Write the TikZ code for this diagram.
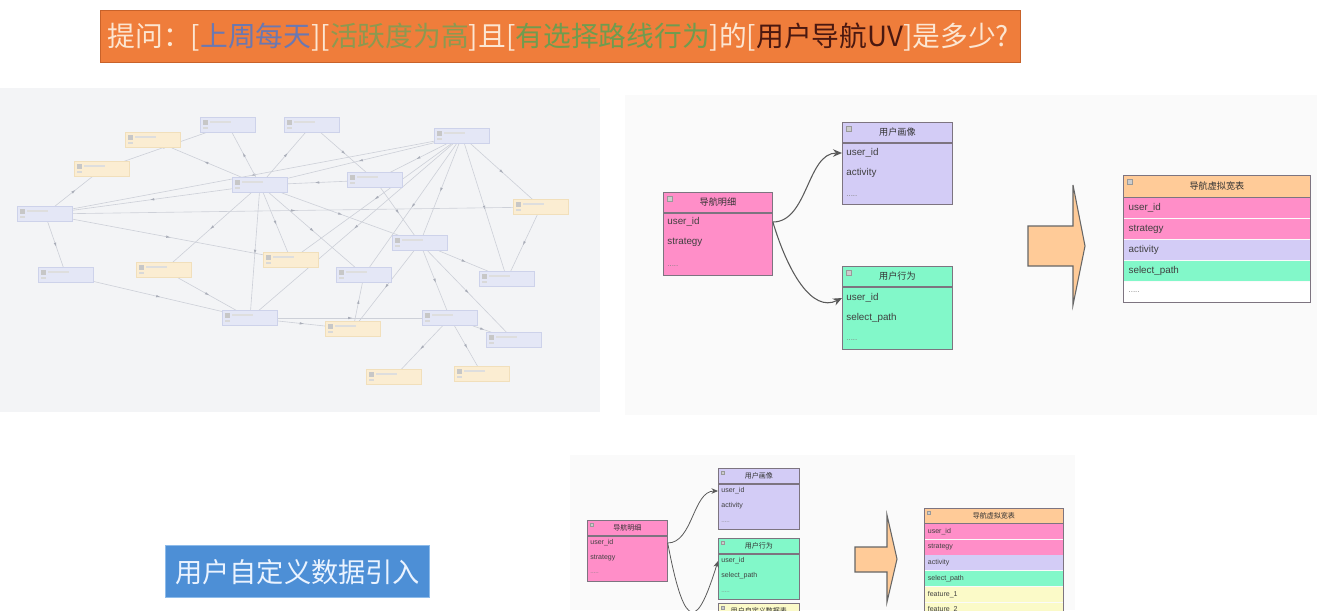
\documentclass[tikz,border=0pt]{standalone}
\usepackage{fontspec}
\setmainfont{Liberation Sans}
\newfontfamily\cjk{Noto Sans CJK SC}
\usepackage{tikz}
\usetikzlibrary{
  arrows.meta,
  positioning,
  fit,
  backgrounds,
  decorations.markings
}
\definecolor{qOrange}{HTML}{EF7D3B}
\definecolor{qOrangeDk}{HTML}{C8622A}
\definecolor{qLight}{HTML}{FCE6D2}
\definecolor{qBlue}{HTML}{6A78B2}
\definecolor{qOlive}{HTML}{8C9950}
\definecolor{qGreen}{HTML}{6F9C4F}
\definecolor{qBrown}{HTML}{4A1810}
\definecolor{erPink}{HTML}{FF8EC8}
\definecolor{erPurple}{HTML}{D3CCF6}
\definecolor{erGreen}{HTML}{82F8C9}
\definecolor{erPeach}{HTML}{FFCB98}
\definecolor{erYellow}{HTML}{FBFAC8}
\definecolor{erLine}{HTML}{7D7480}
\definecolor{gPanel}{HTML}{F3F4F6}
\definecolor{gBlue}{HTML}{E4E7F6}
\definecolor{gBlueDk}{HTML}{CDD2EA}
\definecolor{gYellow}{HTML}{FBEDD2}
\definecolor{gYellowDk}{HTML}{F1DFBB}
\definecolor{gEdge}{HTML}{CDD0D8}
\definecolor{gMark}{HTML}{A9ADB8}
\definecolor{btnBlue}{HTML}{4D8FD6}
\definecolor{btnEdge}{HTML}{8DBBEA}
\definecolor{btnText}{HTML}{EAF3FF}
\tikzset{
  qbar/.style={
    draw=qOrangeDk, fill=qOrange, line width=0.8pt, anchor=north west,
    minimum width=18.4cm, minimum height=1.04cm, inner xsep=0.14cm,
    text width=18.12cm, align=left, font=\cjk\fontsize{15.8}{18}\selectfont, text=qLight
  },
  btn/.style={
    fill=btnBlue, draw=btnEdge, line width=0.8pt, anchor=north west,
    minimum width=5.28cm, minimum height=1.04cm,
    font=\cjk\fontsize{15.5}{18}\selectfont, text=btnText
  },
  % faded overview graph
  gbox/.style={
    minimum width=1.1cm, minimum height=0.3cm, inner sep=0pt, line width=0.4pt,
    path picture={
      \fill[black!22] ([shift={(1.5pt,-1.5pt)}]path picture bounding box.north west) rectangle ++(2.5pt,-2.5pt);
      \fill[black!13] ([shift={(5.5pt,-2pt)}]path picture bounding box.north west) rectangle ++(12pt,-1.4pt);
      \fill[black!15] ([shift={(1.5pt,-5.6pt)}]path picture bounding box.north west) rectangle ++(3pt,-1.2pt);
    }
  },
  gblue/.style={gbox, fill=gBlue, draw=gBlueDk},
  gyellow/.style={gbox, fill=gYellow, draw=gYellowDk},
  gline/.style={
    draw=gEdge, line width=0.35pt, postaction={decorate},
    decoration={markings, mark=at position 0.5 with {\fill[gMark] (1.2pt,0) -- (-1pt,0.7pt) -- (-1pt,-0.7pt) -- cycle;}}
  },
  % er tables
  tabhead/.style={
    draw=erLine, line width=0.5pt, anchor=north west, inner sep=0pt,
    font=\cjk\fontsize{5.2}{6}\selectfont, text=black!80,
    path picture={\draw[black!40, fill=white!80!black, line width=0.2pt]
      ([shift={(2pt,-2pt)}]path picture bounding box.north west) rectangle ++(2.8pt,-2.8pt);}
  },
  stabhead/.style={
    draw=erLine, line width=0.4pt, anchor=north west, inner sep=0pt,
    font=\cjk\fontsize{4}{5}\selectfont, text=black!80,
    path picture={\draw[black!40, fill=white!80!black, line width=0.15pt]
      ([shift={(1.4pt,-1.4pt)}]path picture bounding box.north west) rectangle ++(2pt,-2pt);}
  },
  tabbody/.style={draw=erLine, line width=0.5pt, anchor=north west, inner sep=0pt},
  stabbody/.style={draw=erLine, line width=0.4pt, anchor=north west, inner sep=0pt},
  field/.style={anchor=west, inner sep=0pt, font=\fontsize{5.6}{6.5}\selectfont, text=black!75},
  sfield/.style={anchor=west, inner sep=0pt, font=\fontsize{4}{5}\selectfont, text=black!75},
  dots/.style={anchor=west, inner sep=0pt, font=\fontsize{4.5}{5}\selectfont, text=black!50},
  sdots/.style={anchor=west, inner sep=0pt, font=\fontsize{3.5}{4}\selectfont, text=black!50},
  wrow/.style={anchor=north west, inner xsep=3pt, inner ysep=0pt, minimum height=0.404cm,
    text width=3.528cm, align=left, font=\fontsize{5.6}{6.5}\selectfont, text=black!75},
  swrow/.style={anchor=north west, inner xsep=2pt, inner ysep=0pt, minimum height=0.3cm,
    text width=2.639cm, align=left, font=\fontsize{4}{5}\selectfont, text=black!75},
  tabframe/.style={draw=erLine, line width=0.5pt, inner sep=0pt},
  erlink/.style={-{Stealth[length=1.8mm, width=1.5mm]}, line width=0.6pt, draw=black!65},
  serlink/.style={-{Stealth[length=1.3mm, width=1.1mm]}, line width=0.45pt, draw=black!65},
  bigarrow/.style={fill=erPeach, draw=black!60, line width=0.6pt, line join=miter}
}

\begin{document}
\begin{tikzpicture}[x=0.02cm, y=-0.02cm]
  \useasboundingbox (0,0) rectangle (1317,610);
  \clip (0,0) rectangle (1317,610);

  % question bar
  \node[qbar] (qBar) at (100,10) {提问：[{\color{qBlue}上周每天}][{\color{qOlive}活跃度为高}]且[{\color{qGreen}有选择路线行为}]的[{\color{qBrown}用户导航UV}]是多少?};

  % soft backdrops
  \fill[black!2] (625,95) rectangle (1317,415);
  \fill[black!2] (570,455) rectangle (1075,610);

  % faded overview graph
  \foreach \nm/\px/\py/\kind in {
      tb1/228/125/gblue, tb2/312/125/gblue, tb3/462/136/gblue,
      tb4/153/140/gyellow, tb5/102/169/gyellow, tb6/260/185/gblue,
      tb7/375/180/gblue, tb8/45/214/gblue, tb9/541/207/gyellow,
      tb10/420/243/gblue, tb11/66/275/gblue, tb12/164/270/gyellow,
      tb13/291/260/gyellow, tb14/364/275/gblue, tb15/507/279/gblue,
      tb16/250/318/gblue, tb17/353/329/gyellow, tb18/450/318/gblue,
      tb19/514/340/gblue, tb20/394/377/gyellow, tb21/482/374/gyellow}
    \node[\kind] (\nm) at (\px,\py) {};
  \begin{pgfonlayer}{background}
    \fill[gPanel] (0,88) rectangle (600,412);
    \foreach \a/\b in {3/6, 3/7, 3/8, 3/10, 3/13, 3/14, 3/15, 3/9, 3/16,
        6/1, 6/2, 6/4, 6/8, 6/12, 6/13, 6/14, 6/10, 6/16,
        8/5, 8/11, 8/9, 8/13, 5/1, 7/10, 7/6, 2/7,
        10/18, 10/19, 10/15, 10/17, 11/16, 12/16, 16/18, 16/17,
        18/20, 18/21, 18/19, 17/14, 9/15}
      \draw[gline] (tb\a) -- (tb\b);
  \end{pgfonlayer}

  % er diagram, top
  \node[tabhead, fill=erPink, minimum width=2.18cm, minimum height=0.4cm] (navH) at (663,192) {导航明细};
  \node[tabbody, fill=erPink, minimum width=2.18cm, minimum height=1.24cm] (navB) at (navH.south west) {};
  \node[field] (navF1) at (667,222) {user\_id};
  \node[field] (navF2) at (667,242) {strategy};
  \node[dots] (navF3) at (667,266) {.....};

  \node[tabhead, fill=erPurple, minimum width=2.2cm, minimum height=0.4cm] (porH) at (842,122) {用户画像};
  \node[tabbody, fill=erPurple, minimum width=2.2cm, minimum height=1.22cm] (porB) at (porH.south west) {};
  \node[field] (porF1) at (846,153) {user\_id};
  \node[field] (porF2) at (846,173) {activity};
  \node[dots] (porF3) at (846,196) {.....};

  \node[tabhead, fill=erGreen, minimum width=2.2cm, minimum height=0.4cm] (behH) at (842,266) {用户行为};
  \node[tabbody, fill=erGreen, minimum width=2.2cm, minimum height=1.24cm] (behB) at (behH.south west) {};
  \node[field] (behF1) at (846,298) {user\_id};
  \node[field] (behF2) at (846,318) {select\_path};
  \node[dots] (behF3) at (846,340) {.....};

  \draw[erlink] (navF1 -| navB.east) .. controls +(35,0) and +(-35,0) .. (porF1 -| porB.west);
  \draw[erlink] (navF1 -| navB.east) .. controls +(15,50) and +(-30,15) .. (behF1 -| behB.west);

  \draw[bigarrow] (1028,226) -- (1073,226) -- (1073,185) -- (1085,246) -- (1073,305)
    -- (1073,266) -- (1028,266) -- cycle;

  \node[tabhead, fill=erPeach, minimum width=3.74cm, minimum height=0.44cm] (wdH) at (1123,175) {导航虚拟宽表};
  \node[wrow, fill=erPink] (wdR1) at (wdH.south west) {user\_id};
  \node[wrow, fill=erPink] (wdR2) at (wdR1.south west) {strategy};
  \node[wrow, fill=erPurple] (wdR3) at (wdR2.south west) {activity};
  \node[wrow, fill=erGreen] (wdR4) at (wdR3.south west) {select\_path};
  \node[wrow, fill=white, font=\fontsize{4.5}{5}\selectfont, text=black!50] (wdR5) at (wdR4.south west) {.....};
  \node[tabframe, fit=(wdH)(wdR5)] (wdF) {};

  % custom data entry
  \node[btn] (udBtn) at (165,545) {用户自定义数据引入};

  % er diagram, bottom
  \node[stabhead, fill=erPink, minimum width=1.6cm, minimum height=0.3cm] (bNavH) at (587,520) {导航明细};
  \node[stabbody, fill=erPink, minimum width=1.6cm, minimum height=0.9cm] (bNavB) at (bNavH.south west) {};
  \node[sfield] (bNavF1) at (590,543) {user\_id};
  \node[sfield] (bNavF2) at (590,558) {strategy};
  \node[sdots] (bNavF3) at (590,573) {.....};

  \node[stabhead, fill=erPurple, minimum width=1.62cm, minimum height=0.3cm] (bPorH) at (718,468) {用户画像};
  \node[stabbody, fill=erPurple, minimum width=1.62cm, minimum height=0.9cm] (bPorB) at (bPorH.south west) {};
  \node[sfield] (bPorF1) at (721,491) {user\_id};
  \node[sfield] (bPorF2) at (721,506) {activity};
  \node[sdots] (bPorF3) at (721,522) {.....};

  \node[stabhead, fill=erGreen, minimum width=1.62cm, minimum height=0.3cm] (bBehH) at (718,538) {用户行为};
  \node[stabbody, fill=erGreen, minimum width=1.62cm, minimum height=0.9cm] (bBehB) at (bBehH.south west) {};
  \node[sfield] (bBehF1) at (721,561) {user\_id};
  \node[sfield] (bBehF2) at (721,576) {select\_path};
  \node[sdots] (bBehF3) at (721,592) {.....};

  \node[stabhead, fill=erYellow, minimum width=1.62cm, minimum height=0.3cm] (bUsrH) at (718,603) {用户自定义数据表};

  \draw[serlink] (bNavF1 -| bNavB.east) .. controls +(25,0) and +(-25,0) .. (bPorF1 -| bPorB.west);
  \draw[serlink] (bNavF1 -| bNavB.east) .. controls +(18,95) and +(-20,64) .. (bBehF1 -| bBehB.west);

  \draw[bigarrow] (855,547) -- (887,547) -- (887,515) -- (897,559) -- (887,602)
    -- (887,572) -- (855,572) -- cycle;

  \node[stabhead, fill=erPeach, minimum width=2.78cm, minimum height=0.3cm] (bWdH) at (924,508) {导航虚拟宽表};
  \node[swrow, fill=erPink] (bWdR1) at (bWdH.south west) {user\_id};
  \node[swrow, fill=erPink] (bWdR2) at (bWdR1.south west) {strategy};
  \node[swrow, fill=erPurple] (bWdR3) at (bWdR2.south west) {activity};
  \node[swrow, fill=erGreen] (bWdR4) at (bWdR3.south west) {select\_path};
  \node[swrow, fill=erYellow] (bWdR5) at (bWdR4.south west) {feature\_1};
  \node[swrow, fill=erYellow] (bWdR6) at (bWdR5.south west) {feature\_2};
  \node[tabframe, line width=0.4pt, fit=(bWdH)(bWdR6)] (bWdF) {};
\end{tikzpicture}
\end{document}
